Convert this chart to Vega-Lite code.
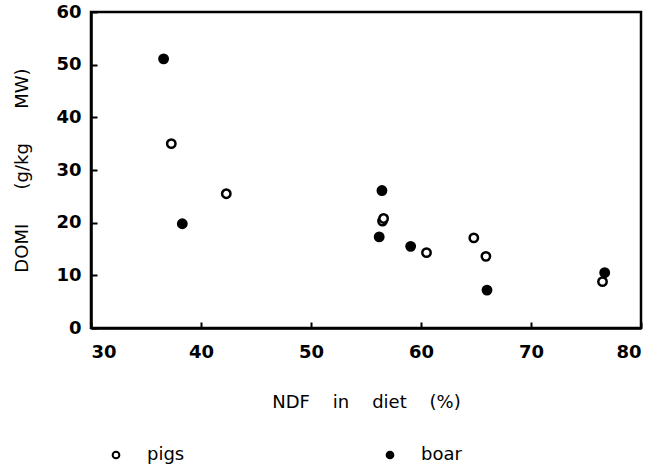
{
  "$schema": "https://vega.github.io/schema/vega-lite/v6.json",
  "autosize": "none",
  "width": 550,
  "height": 316,
  "padding": {"left": 91, "top": 12, "right": 19, "bottom": 144},
  "background": "white",
  "config": {
    "view": {"stroke": "black", "strokeWidth": 2.5},
    "font": "DejaVu Sans"
  },
  "data": {
    "values": [
      {"ndf": 37.3, "domi": 35.0, "group": "pigs"},
      {"ndf": 42.3, "domi": 25.5, "group": "pigs"},
      {"ndf": 56.5, "domi": 20.3, "group": "pigs"},
      {"ndf": 56.6, "domi": 20.8, "group": "pigs"},
      {"ndf": 60.5, "domi": 14.3, "group": "pigs"},
      {"ndf": 64.8, "domi": 17.1, "group": "pigs"},
      {"ndf": 65.9, "domi": 13.6, "group": "pigs"},
      {"ndf": 76.5, "domi": 8.8, "group": "pigs"},
      {"ndf": 36.6, "domi": 51.1, "group": "boar"},
      {"ndf": 38.3, "domi": 19.8, "group": "boar"},
      {"ndf": 56.45, "domi": 26.1, "group": "boar"},
      {"ndf": 56.2, "domi": 17.3, "group": "boar"},
      {"ndf": 59.06, "domi": 15.5, "group": "boar"},
      {"ndf": 66.0, "domi": 7.2, "group": "boar"},
      {"ndf": 76.7, "domi": 10.5, "group": "boar"}
    ]
  },
  "mark": {"type": "point", "filled": true, "stroke": "black", "strokeWidth": 2.5, "size": 70, "opacity": 1},
  "encoding": {
    "x": {
      "field": "ndf", "type": "quantitative",
      "scale": {"domain": [30, 80], "nice": false, "zero": false},
      "axis": {
        "title": "NDF\u00a0\u00a0\u00a0 in\u00a0\u00a0\u00a0 diet\u00a0\u00a0\u00a0 (%)",
        "values": [30, 40, 50, 60, 70, 80],
        "grid": false, "domainColor": "black", "domainWidth": 2.5,
        "tickColor": "black", "tickWidth": 2, "tickSize": -6,
        "labelFont": "DejaVu Sans", "labelFontWeight": "bold", "labelFontSize": 18, "labelColor": "black",
        "labelPadding": 21,
        "titleFont": "DejaVu Sans", "titleFontWeight": "normal", "titleFontSize": 18, "titleColor": "black",
        "titlePadding": 32
      }
    },
    "y": {
      "field": "domi", "type": "quantitative",
      "scale": {"domain": [0, 60], "nice": false},
      "axis": {
        "title": "DOMI\u00a0\u00a0\u00a0\u00a0\u00a0 (g/kg\u00a0\u00a0\u00a0\u00a0\u00a0 MW)",
        "values": [0, 10, 20, 30, 40, 50, 60],
        "grid": false, "domainColor": "black", "domainWidth": 2.5,
        "tickColor": "black", "tickWidth": 2, "tickSize": -6,
        "labelFont": "DejaVu Sans", "labelFontWeight": "bold", "labelFontSize": 18, "labelColor": "black",
        "labelPadding": 16,
        "titleFont": "DejaVu Sans", "titleFontWeight": "normal", "titleFontSize": 18, "titleColor": "black",
        "titlePadding": 24
      }
    },
    "fill": {
      "field": "group", "type": "nominal",
      "scale": {"domain": ["pigs", "boar"], "range": ["white", "black"]},
      "legend": {
        "title": null,
        "orient": "none",
        "legendX": 16,
        "legendY": 434,
        "direction": "horizontal",
        "symbolType": "circle",
        "symbolSize": 45,
        "symbolStrokeColor": "black",
        "symbolStrokeWidth": 2,
        "labelFont": "DejaVu Sans",
        "labelFontSize": 18,
        "labelColor": "black",
        "labelOffset": 22,
        "columnPadding": 196
      }
    }
  }
}
